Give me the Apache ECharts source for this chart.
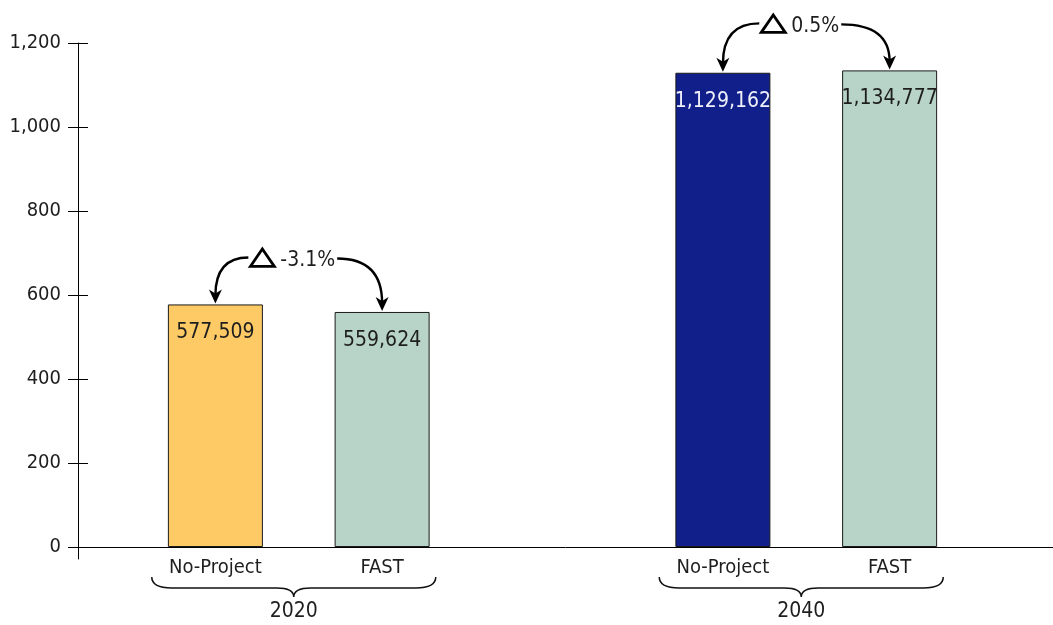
<!DOCTYPE html>
<html><head><meta charset="utf-8">
<script src="https://cdn.jsdelivr.net/npm/echarts@6/dist/echarts.min.js"></script>
<style>html,body{margin:0;padding:0;background:#fff}#c{width:1053px;height:625px}</style>
</head><body><div id="c"></div>
<script>
// ---- data ----
const years = ['2020', '2040'];
const scenarios = ['No-Project', 'FAST'];
const noProject = [577509, 1129162];
const fast = [559624, 1134777];
const yMin = 0, yMax = 1200000, yInterval = 200000;

// ---- styling ----
const FONT = "'DejaVu Sans Condensed', 'Liberation Sans Narrow', sans-serif";
const TXT = '#1e1e1e';
const npColors = ['#FECA66', '#111F8A'];
const npLabelColors = ['#1e1e1e', '#eef0fa'];
const fastColor = '#B8D4C8';
const BAR_W = 95, GAP_RATIO = 0.755;
const half = (BAR_W + BAR_W * GAP_RATIO) / 2;

const mctx = document.createElement('canvas').getContext('2d');
function measure(t, size) { mctx.font = size + 'px ' + FONT; return mctx.measureText(t).width; }
const fmtFull = v => Number(v).toLocaleString('en-US');
const fmtK = v => Math.round(v / 1000).toLocaleString('en-US');

const chart = echarts.init(document.getElementById('c'), null, { renderer: 'canvas' });

function renderAnno(params, api) {
  const i = api.value(0), np = api.value(1), fa = api.value(2);
  const base = api.coord([i, 0]);
  const cx = base[0], baseY = base[1];
  const npTop = api.coord([i, np])[1];
  const faTop = api.coord([i, fa])[1];
  const xNp = cx - half, xFa = cx + half;
  const annY = Math.min(npTop, faTop) - 44;
  const txt = ((fa - np) / np * 100).toFixed(1) + '%';
  const fs = 21;
  const tw = measure(txt, fs);
  const triW = 24, gap = 6;
  const total = triW + gap + tw;
  const x0 = cx - 6 - total / 2;
  const sx = x0 - 2, sy = annY - 3;
  const ex = x0 + total + 2, ey = annY - 2;
  const tipL = npTop - 1, tipR = faTop - 1;
  const head = (x, y) => ({
    type: 'polygon',
    shape: { points: [[x, y], [x - 6.5, y - 14], [x, y - 10], [x + 6.5, y - 14]] },
    style: { fill: '#000' }
  });
  // brace
  const bc = cx - 5, bw = 142;
  const yTop = baseY + 30, yMid = baseY + 41, yTip = baseY + 50;
  const L = bc - bw, R = bc + bw;
  const brace = `M${L},${yTop} Q${L},${yMid} ${L + 20},${yMid} L${bc - 17},${yMid} Q${bc},${yMid} ${bc},${yTip} Q${bc},${yMid} ${bc + 17},${yMid} L${R - 20},${yMid} Q${R},${yMid} ${R},${yTop}`;
  return {
    type: 'group',
    children: [
      { type: 'path', shape: { pathData: `M${sx},${sy} Q${xNp},${sy} ${xNp},${tipL - 8}` },
        style: { stroke: '#000', lineWidth: 2.4, fill: null } },
      head(xNp, tipL),
      { type: 'path', shape: { pathData: `M${ex},${ey} Q${xFa},${ey} ${xFa},${tipR - 8}` },
        style: { stroke: '#000', lineWidth: 2.4, fill: null } },
      head(xFa, tipR),
      { type: 'polygon',
        shape: { points: [[x0, annY + 6], [x0 + triW / 2, annY - 11.5], [x0 + triW, annY + 6]] },
        style: { stroke: '#000', lineWidth: 2.8, fill: '#fff', lineJoin: 'miter' } },
      { type: 'text',
        style: { x: x0 + triW + gap, y: annY, text: txt, fill: TXT, font: fs + 'px ' + FONT,
                 textAlign: 'left', textVerticalAlign: 'middle' } },
      { type: 'path', shape: { pathData: brace }, style: { stroke: '#111', lineWidth: 1.5, fill: null } }
    ]
  };
}

const option = {
  animation: false,
  backgroundColor: '#fff',
  textStyle: { fontFamily: FONT },
  grid: [
    { left: 78, right: 0, top: 43, bottom: 78, outerBoundsMode: 'none' },
    { left: 45, right: -7, top: 43, bottom: 78, outerBoundsMode: 'none' },
    { left: 78, right: 0, top: 43, bottom: 66, outerBoundsMode: 'none' }
  ],
  xAxis: [
    { gridIndex: 0, type: 'category', data: [''],
      axisLine: { show: true, lineStyle: { color: '#000', width: 1 } },
      axisTick: { show: false }, axisLabel: { show: false }, splitLine: { show: false } },
    { gridIndex: 1, type: 'category', data: years,
      axisLine: { show: false }, axisTick: { show: false }, splitLine: { show: false },
      axisLabel: {
        interval: 0, margin: 10, color: TXT, fontFamily: FONT,
        formatter: v => `{s|${scenarios[0]}}{s|${scenarios[1]}}\n{yr|${v}}`,
        rich: {
          s: { width: 2 * half, align: 'center', fontSize: 20, lineHeight: 22, fontFamily: FONT, color: TXT },
          yr: { fontSize: 21, lineHeight: 66, fontFamily: FONT, color: TXT, padding: [0, 10, 0, 0] }
        }
      } },
    { gridIndex: 2, type: 'category', data: [''], show: false }
  ],
  yAxis: [
    { gridIndex: 0, type: 'value', position: 'left', offset: 0, min: yMin, max: yMax, interval: yInterval,
      axisLine: { show: false },
      axisTick: { show: true, length: 10, lineStyle: { color: '#000', width: 1 } },
      axisLabel: { formatter: fmtK, margin: 17, fontSize: 20, color: TXT, fontFamily: FONT },
      splitLine: { show: false } },
    { gridIndex: 0, type: 'value', position: 'left', offset: 0, min: yMin, max: yMax, interval: yInterval,
      axisLine: { show: false },
      axisTick: { show: true, inside: true, length: 10, lineStyle: { color: '#000', width: 1 } },
      axisLabel: { show: false }, splitLine: { show: false } },
    { gridIndex: 1, type: 'value', min: yMin, max: yMax, interval: yInterval, show: false },
    { gridIndex: 2, type: 'value', min: 0, max: 1,
      axisLine: { show: true, lineStyle: { color: '#000', width: 1 } },
      axisTick: { show: false }, axisLabel: { show: false }, splitLine: { show: false } }
  ],
  series: [
    { name: scenarios[0], type: 'bar', xAxisIndex: 1, yAxisIndex: 2,
      barWidth: BAR_W, barGap: (GAP_RATIO * 100) + '%',
      itemStyle: { borderColor: '#1a1a1a', borderWidth: 1 },
      label: { show: true, position: 'insideTop', distance: 18, fontSize: 21, fontFamily: FONT,
               formatter: p => fmtFull(p.value) },
      data: noProject.map((v, i) => ({ value: v, itemStyle: { color: npColors[i] },
                                         label: { color: npLabelColors[i] } })) },
    { name: scenarios[1], type: 'bar', xAxisIndex: 1, yAxisIndex: 2,
      barWidth: BAR_W, barGap: (GAP_RATIO * 100) + '%',
      itemStyle: { color: fastColor, borderColor: '#1a1a1a', borderWidth: 1 },
      label: { show: true, position: 'insideTop', distance: 18, fontSize: 21, fontFamily: FONT,
               color: TXT, formatter: p => fmtFull(p.value) },
      data: fast.slice() },
    { type: 'custom', xAxisIndex: 1, yAxisIndex: 2, clip: false, silent: true, z: 10,
      renderItem: renderAnno,
      data: years.map((y, i) => [i, noProject[i], fast[i]]) }
  ]
};
chart.setOption(option);
</script>
</body></html>
